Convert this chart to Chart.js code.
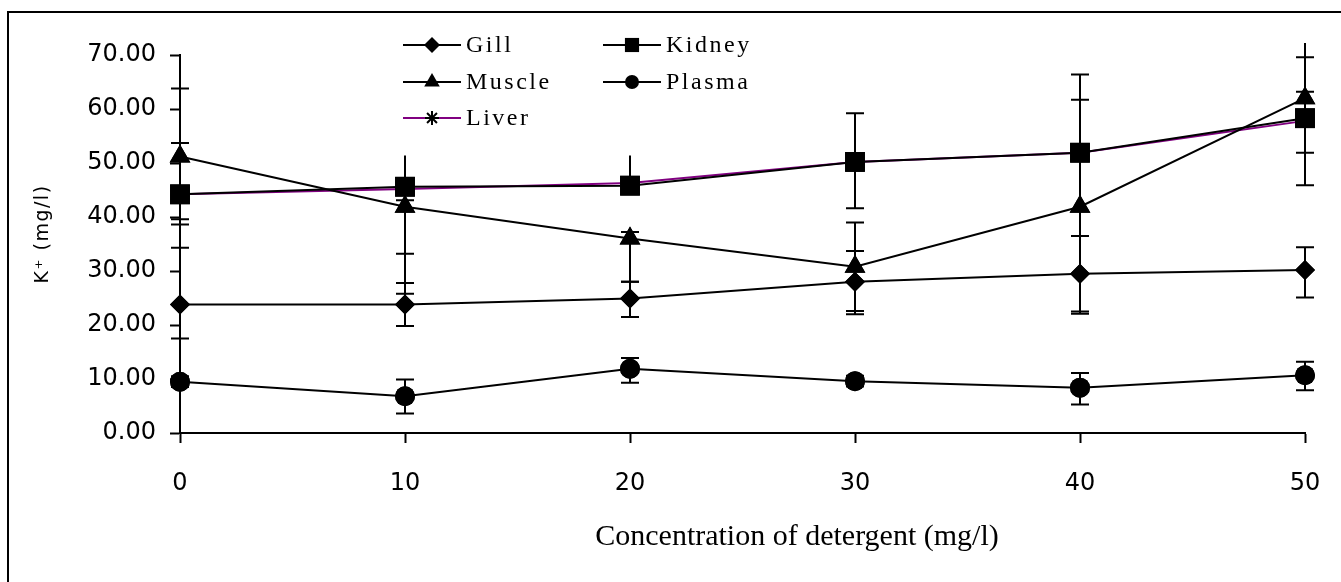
<!DOCTYPE html>
<html>
<head>
<meta charset="utf-8">
<script src="https://cdn.jsdelivr.net/npm/chart.js@4.4.1/dist/chart.umd.min.js"></script>
<style>
  html, body { margin: 0; padding: 0; background: #fff; }
  #wrap { width: 1341px; height: 582px; }
</style>
</head>
<body>
<div id="wrap"><canvas id="chart" width="1341" height="582"></canvas></div>
<script>
// Detergent concentration (mg/l)
const concentration = [0, 10, 20, 30, 40, 50];

// K+ concentration (mg/l) per tissue, with upper / lower error amounts
const gill       = [23.8, 23.8, 24.9, 28.0, 29.5, 30.2];
const gillUp     = [10.5, 4.0, 3.1, 5.7, 7.0, 4.2];
const gillDown   = [6.3, 4.0, 3.4, 6.0, 7.0, 5.1];

const kidney     = [44.2, 45.6, 45.8, 50.2, 51.9, 58.3];
const kidneyUp   = [9.5, 1.2, 1.2, 9.0, 14.5, 11.3];
const kidneyDown = [4.6, 12.4, 1.2, 8.6, 15.4, 12.4];

const muscle     = [51.2, 41.9, 36.0, 30.8, 41.9, 62.0];
const muscleUp   = [12.6, 1.2, 1.2, 8.2, 19.8, 1.2];
const muscleDown = [12.6, 16.1, 8.0, 8.2, 19.8, 10.1];

const plasma     = [9.5, 6.8, 11.9, 9.6, 8.4, 10.7];
const plasmaUp   = [1.0, 3.1, 2.0, 1.0, 2.7, 2.5];
const plasmaDown = [1.0, 3.2, 2.6, 1.0, 3.1, 2.8];

const liver      = [44.2, 45.2, 46.3, 50.2, 51.9, 57.8];
const liverUp    = [0, 6.2, 5.1, 0, 0, 14.4];
const liverDown  = [0, 0, 0, 0, 0, 0];

const yTicks = [0, 10, 20, 30, 40, 50, 60, 70];
const xTitle = 'Concentration of detergent (mg/l)';
const yTitle = 'K\u207A (mg/l)';

const PURPLE = '#800080';

function pts(values) {
  return values.map((v, i) => ({ x: concentration[i], y: v }));
}

function series(label, values, up, down, style, radius, color, capped) {
  return {
    label,
    data: pts(values),
    errUp: up,
    errDown: down,
    errCap: capped,
    borderColor: color,
    backgroundColor: '#000',
    borderWidth: 2,
    pointStyle: style,
    pointRadius: radius,
    pointHoverRadius: radius,
    pointBorderColor: '#000',
    pointBackgroundColor: '#000',
    pointBorderWidth: style === 'star' ? 1.5 : 0,
    tension: 0,
    fill: false,
    clip: false
  };
}

// Figure frame (top and left rule)
const framePlugin = {
  id: 'frame',
  beforeDraw(chart) {
    const ctx = chart.ctx;
    ctx.save();
    ctx.fillStyle = '#fff';
    ctx.fillRect(0, 0, chart.width, chart.height);
    ctx.fillStyle = '#000';
    ctx.fillRect(7, 11, chart.width, 2);
    ctx.fillRect(7, 11, 2, chart.height);
    ctx.restore();
  }
};

// Vertical error bars, drawn through the chart's own scales
const errorBarPlugin = {
  id: 'errorBars',
  beforeDatasetsDraw(chart) {
    const ctx = chart.ctx;
    const xs = chart.scales.x, ys = chart.scales.y;
    ctx.save();
    ctx.strokeStyle = '#000';
    ctx.lineWidth = 2;
    chart.data.datasets.forEach(ds => {
      if (!ds.errUp) return;
      ds.data.forEach((p, i) => {
        const up = ds.errUp[i], down = ds.errDown[i];
        if (!up && !down) return;
        const px = Math.round(xs.getPixelForValue(p.x));
        const top = ys.getPixelForValue(p.y + up);
        const bot = ys.getPixelForValue(p.y - down);
        ctx.beginPath();
        ctx.moveTo(px, top);
        ctx.lineTo(px, bot);
        if (ds.errCap) {
          const w = 9;
          if (up) { ctx.moveTo(px - w, top); ctx.lineTo(px + w, top); }
          if (down) { ctx.moveTo(px - w, bot); ctx.lineTo(px + w, bot); }
        }
        ctx.stroke();
      });
    });
    ctx.restore();
  },
  // markers sit above every connecting line
  afterDatasetsDraw(chart) {
    const ctx = chart.ctx;
    chart.data.datasets.forEach((ds, i) => {
      const meta = chart.getDatasetMeta(i);
      meta.data.forEach(el => el.draw(ctx));
    });
  }
};

// Legend block inside the plot area, plus the axis titles
const legendPlugin = {
  id: 'boxLegend',
  afterDraw(chart, args, opts) {
    const ctx = chart.ctx;
    ctx.save();
    opts.items.forEach(it => {
      const ds = chart.data.datasets[it.index];
      const x0 = opts.cols[it.col], y0 = opts.rows[it.row];
      ctx.strokeStyle = ds.borderColor;
      ctx.lineWidth = 2;
      ctx.beginPath();
      ctx.moveTo(x0, y0);
      ctx.lineTo(x0 + 58, y0);
      ctx.stroke();
      ctx.fillStyle = '#000';
      ctx.strokeStyle = '#000';
      Chart.helpers.drawPoint(ctx, {
        pointStyle: ds.pointStyle,
        radius: it.r,
        rotation: 0,
        borderWidth: ds.pointStyle === 'star' ? 1.5 : 0
      }, x0 + 29, y0);
      ctx.fillStyle = '#000';
      ctx.font = '24px "Liberation Serif", "Times New Roman", serif';
      ctx.textBaseline = 'middle';
      ctx.textAlign = 'left';
      if ('letterSpacing' in ctx) ctx.letterSpacing = '2.5px';
      ctx.fillText(ds.label, x0 + 63, y0 + 1);
      if ('letterSpacing' in ctx) ctx.letterSpacing = '0px';
    });

    // x axis title
    ctx.font = '30px "Liberation Serif", "Times New Roman", serif';
    ctx.fillStyle = '#000';
    ctx.textAlign = 'center';
    ctx.textBaseline = 'alphabetic';
    ctx.fillText(xTitle, opts.xTitleAt[0], opts.xTitleAt[1]);

    // y axis title
    ctx.translate(opts.yTitleAt[0], opts.yTitleAt[1]);
    ctx.rotate(-Math.PI / 2);
    ctx.font = '19px "DejaVu Sans", sans-serif';
    ctx.textAlign = 'center';
    ctx.textBaseline = 'middle';
    if ('letterSpacing' in ctx) ctx.letterSpacing = '1.5px';
    ctx.fillText(yTitle, 0, 0);
    ctx.restore();
  }
};

const tickFont = { family: '"DejaVu Sans", Verdana, sans-serif', size: 24 };

new Chart(document.getElementById('chart'), {
  type: 'line',
  data: {
    datasets: [
      series('Gill',   gill,   gillUp,   gillDown,   'rectRot',  10, '#000', true),
      series('Kidney', kidney, kidneyUp, kidneyDown, 'rect',     14, '#000', true),
      series('Muscle', muscle, muscleUp, muscleDown, 'triangle', 12, '#000', true),
      series('Plasma', plasma, plasmaUp, plasmaDown, 'circle',   10, '#000', true),
      series('Liver',  liver,  liverUp,  liverDown,  'star',      8, PURPLE, false)
    ]
  },
  options: {
    responsive: false,
    animation: false,
    devicePixelRatio: 1,
    layout: { padding: { top: 55, right: 36, bottom: 0, left: 0 } },
    plugins: {
      legend: { display: false },
      tooltip: { enabled: false },
      boxLegend: {
        cols: [403, 603],
        rows: [45, 82, 118],
        xTitleAt: [797, 545],
        yTitleAt: [43, 234],
        items: [
          { index: 0, col: 0, row: 0, r: 8 },
          { index: 1, col: 1, row: 0, r: 10 },
          { index: 2, col: 0, row: 1, r: 9 },
          { index: 3, col: 1, row: 1, r: 7 },
          { index: 4, col: 0, row: 2, r: 7 }
        ]
      }
    },
    scales: {
      x: {
        type: 'linear',
        min: concentration[0],
        max: concentration[concentration.length - 1],
        afterFit(scale) {
          scale.height = 149;
          scale.paddingLeft = 0;
          scale.paddingRight = 0;
        },
        ticks: {
          stepSize: 10,
          color: '#000',
          font: tickFont,
          padding: 26,
          maxRotation: 0
        },
        grid: {
          drawOnChartArea: false,
          drawTicks: true,
          tickLength: 10,
          tickWidth: 2,
          tickColor: '#000'
        },
        border: { color: '#000', width: 2 }
      },
      y: {
        type: 'linear',
        min: yTicks[0],
        max: yTicks[yTicks.length - 1],
        afterFit(scale) {
          scale.width = 180;
          scale.paddingTop = 0;
          scale.paddingBottom = 0;
        },
        afterBuildTicks(scale) { scale.ticks = yTicks.map(v => ({ value: v })); },
        ticks: {
          color: '#000',
          font: tickFont,
          padding: 14,
          callback: v => Number(v).toFixed(2)
        },
        grid: {
          drawOnChartArea: false,
          drawTicks: true,
          tickLength: 10,
          tickWidth: 2,
          tickColor: '#000'
        },
        border: { color: '#000', width: 2 }
      }
    }
  },
  plugins: [framePlugin, errorBarPlugin, legendPlugin]
});
</script>
</body>
</html>
